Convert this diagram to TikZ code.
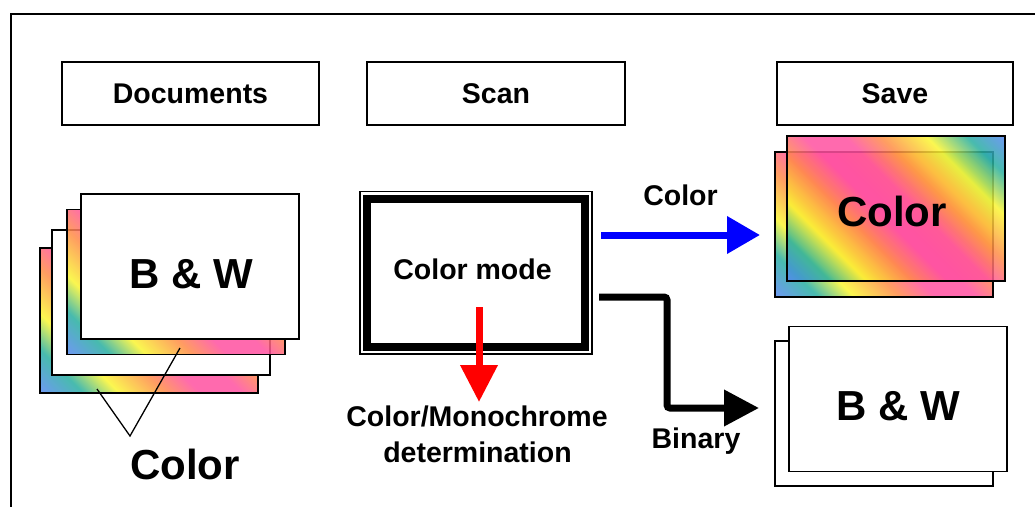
\documentclass[tikz,border=0pt]{standalone}
\usepackage{fontspec}
\setmainfont{Liberation Sans}
\usetikzlibrary{arrows.meta,calc}
\definecolor{rbblue}{RGB}{85,135,240}
\definecolor{rbteal}{RGB}{40,175,160}
\definecolor{rbyellow}{RGB}{250,245,50}
\definecolor{rborange}{RGB}{255,140,70}
\definecolor{rbpink}{RGB}{255,80,160}
\pgfdeclarehorizontalshading{rainbow}{100bp}{color(0bp)=(rbblue); color(14.6bp)=(rbblue); color(23bp)=(rbteal); color(30bp)=(rbyellow); color(39bp)=(rborange); color(46bp)=(rbpink); color(54bp)=(rbpink); color(61bp)=(rborange); color(70bp)=(rbyellow); color(78bp)=(rbteal); color(85.4bp)=(rbblue); color(100bp)=(rbblue)}
\newcommand\txtM{\fontsize{28.5}{32}\selectfont\bfseries}
\newcommand\txtL{\fontsize{42}{46}\selectfont\bfseries}
\begin{document}
\begin{tikzpicture}[x=1pt,y=-1pt,
  hdr/.style={draw, line width=1.5pt, minimum height=63pt, inner sep=0pt, font=\txtM},
  sheet/.style={draw, line width=1.6pt, minimum width=218pt, minimum height=145pt, inner sep=0pt, outer sep=0pt},
  colorsheet/.style={sheet, shade, shading=rainbow, shading angle=45, fill opacity=0.85},
  whitesheet/.style={sheet, fill=white},
  lbl/.style={anchor=base, inner sep=0pt, font=\txtM},
  biglbl/.style={anchor=base, inner sep=0pt, font=\txtL},
  fatarrow/.style={line width=7pt}
]
\useasboundingbox (0,0) rectangle (1035,506);
\clip (0,0) rectangle (1035,506);
\draw[line width=1.5pt] (11,14) rectangle (1060,530);

% headers
\node[hdr, minimum width=257pt] (docs) at (190.5,93.5) {Documents};
\node[hdr, minimum width=258pt] (scanhdr) at (496,93.5) {Scan};
\node[hdr, minimum width=236pt] (save) at (895,93.5) {Save};

% documents stack
\node[colorsheet] (s4) at (149,320.5) {};
\node[whitesheet] (s3) at (161,302.5) {};
\node[colorsheet] (s2) at (176,282) {};
\node[whitesheet] (s1) at (190,266.5) {};
\node[biglbl] (bwleft) at (191,288) {B \& W};
\coordinate (cL) at (97,389);
\coordinate (cR) at (180,348);
\coordinate (cV) at (130,436);
\draw[line width=1.3pt] (cL) -- (cV) -- (cR);
\node[biglbl] (colorleft) at (185,479) {Color};

% scan box
\node[draw, line width=8pt, minimum width=218.3pt, minimum height=147.7pt, outer sep=0pt] (scan) at (475.85,272.85) {};
\draw[line width=1.7pt] ($(scan.north west)+(-6.9,-7.4)$) rectangle ($(scan.south east)+(6.9,7.4)$);
\node[lbl] (mode) at (472.5,279.3) {Color mode};

% save color
\node[colorsheet] (sc2) at (884,224.5) {};
\node[colorsheet] (sc1) at (896,208.5) {};
\node[biglbl] (colorsave) at (892,226.7) {Color};

% save b&w
\node[whitesheet] (sb2) at (884,413.5) {};
\node[whitesheet] (sb1) at (898,399) {};
\node[biglbl] (bwsave) at (898.7,420) {B \& W};

% arrows
\coordinate (bS) at (601,235);
\coordinate (bE) at (760,235);
\draw[fatarrow, blue, -{Triangle[length=33pt,width=36pt]}] (bS) -- (bE);
\node[lbl] (lcolor) at (680.5,205) {Color};

\coordinate (kS) at (599,297);
\coordinate (kM) at (667,297);
\coordinate (kE) at (759,408);
\draw[fatarrow, rounded corners=3pt, -{Triangle[length=35pt,width=35pt]}] (kS) -- (kM) |- (kE);
\node[lbl] (lbinary) at (696,448.3) {Binary};

\coordinate (rS) at (479,307);
\coordinate (rE) at (479,402);
\draw[fatarrow, red, -{Triangle[length=37pt,width=36pt]}] (rS) -- (rE);
\node[lbl] (ldet1) at (477,426.7) {Color/Monochrome};
\node[lbl] (ldet2) at (477.5,462) {determination};
\end{tikzpicture}
\end{document}
